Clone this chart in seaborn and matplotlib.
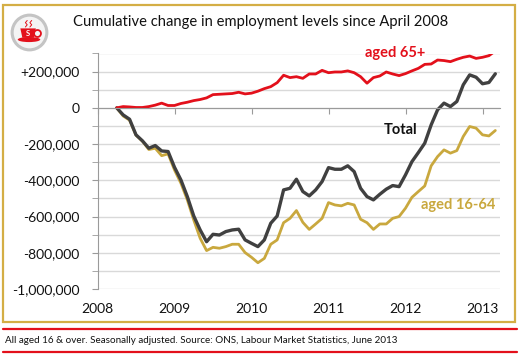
import numpy as np
import pandas as pd
import matplotlib
matplotlib.use("Agg")
import matplotlib.pyplot as plt
from matplotlib.patches import Rectangle, Ellipse, Polygon
from matplotlib.lines import Line2D
from matplotlib.ticker import MultipleLocator, FuncFormatter
import seaborn as sns

# monthly, April 2008 .. March 2013, change since April 2008
total = [0, -39000, -63000, -149000, -182000, -223000, -208000, -238000, -241000, -328000,
         -398000, -490000, -597000, -674000, -739000, -698000, -702000, -683000, -674000, -670000,
         -729000, -748000, -766000, -729000, -637000, -597000, -453000, -444000, -394000, -462000,
         -486000, -453000, -407000, -330000, -339000, -339000, -320000, -352000, -444000, -490000,
         -508000, -477000, -449000, -429000, -435000, -370000, -297000, -247000, -195000, -94000,
         -11000, 26000, 7000, 35000, 127000, 182000, 169000, 133000, 140000, 188000]
aged_65 = [0, 7000, 5000, 2000, 2000, 7000, 15000, 26000, 13000, 13000,
           24000, 31000, 40000, 46000, 55000, 73000, 75000, 77000, 79000, 86000,
           77000, 81000, 92000, 106000, 117000, 139000, 180000, 167000, 172000, 163000,
           187000, 187000, 207000, 194000, 198000, 198000, 204000, 194000, 172000, 136000,
           167000, 176000, 198000, 187000, 178000, 189000, 204000, 218000, 240000, 242000,
           264000, 261000, 255000, 268000, 279000, 286000, 273000, 279000, 288000, 314000]
aged_16_64 = [0, -45000, -68000, -151000, -184000, -230000, -223000, -264000, -254000, -343000,
              -416000, -508000, -619000, -720000, -788000, -770000, -775000, -766000, -753000, -753000,
              -799000, -825000, -855000, -831000, -753000, -729000, -634000, -610000, -567000, -632000,
              -671000, -641000, -610000, -523000, -536000, -541000, -527000, -536000, -615000, -634000,
              -671000, -641000, -641000, -610000, -600000, -554000, -494000, -462000, -431000, -320000,
              -269000, -232000, -250000, -236000, -158000, -103000, -112000, -149000, -155000, -125000]
years = [2008, 2009, 2010, 2011, 2012, 2013]

t = 2008 + (3 + np.arange(len(total))) / 12.0
df = pd.DataFrame({"t": t, "total": total, "aged_65": aged_65, "aged_16_64": aged_16_64})

RED = "#e3101b"
GOLD = "#c9a83e"
DARK = "#404040"
BORDER = "#d4ae45"

sns.set_style("white")
plt.rcParams["font.family"] = ["Lato", "DejaVu Sans"]

fig = plt.figure(figsize=(5.25, 3.61), dpi=100)
W, H = 525, 361

def fx(px):
    return px / W

def fy(py):
    return 1 - py / H

# outer gold frame and footer rules
fig.patches.append(Rectangle((fx(3), fy(322)), fx(515) - fx(3), fy(5) - fy(322),
                             transform=fig.transFigure, fill=False, ec=BORDER, lw=1.6))
for yy in (329, 352):
    fig.lines.append(Line2D([fx(3), fx(517)], [fy(yy), fy(yy)], transform=fig.transFigure,
                            color=RED, lw=1.6))
fig.text(fx(5), fy(340.5), "All aged 16 & over. Seasonally adjusted. Source: ONS, Labour Market Statistics, June 2013",
         fontsize=7.1, va="center", ha="left", color="#111111")
fig.text(fx(73), fy(22), "Cumulative change in employment levels since April 2008",
         fontsize=10.6, va="center", ha="left", color="#111111")

# logo: teacup in a grey roundel
cx, cy = fx(29), fy(32)
fig.lines.append(Line2D([cx], [cy], transform=fig.transFigure, marker="o", ms=25,
                        mfc="#f4f4f4", mec="#c4c4c4", mew=2.2, ls="none", zorder=-1))
lax = fig.add_axes([fx(11), fy(50), 36 / W, 36 / H])
lax.set_zorder(5)
lax.set_xlim(-1, 1)
lax.set_ylim(-1, 1)
lax.axis("off")
lax.add_patch(Ellipse((0, -0.42), 1.25, 0.28, fc=RED, ec="none", zorder=3))
lax.add_patch(Polygon([[-0.48, 0.2], [0.38, 0.2], [0.27, -0.32], [-0.37, -0.32]], fc=RED, ec="none", zorder=3))
lax.plot([0.45], [-0.03], marker="o", ms=5, mfc="none", mec=RED, mew=1.3, zorder=3)
lax.plot([-0.2, -0.1, -0.2, -0.1], [0.28, 0.4, 0.52, 0.64], color=RED, lw=0.7, zorder=3)
lax.plot([0.05, 0.15, 0.05, 0.15], [0.28, 0.4, 0.52, 0.64], color=RED, lw=0.7, zorder=3)
lax.text(-0.05, -0.06, "S", color="white", fontsize=5.5, fontweight="bold", ha="center", va="center", zorder=4)

# main chart
ax = fig.add_axes([fx(97.5), fy(289), fx(500) - fx(97.5), fy(53.5) - fy(289)])
sns.lineplot(data=df, x="t", y="aged_16_64", ax=ax, color=GOLD, lw=2.0)
sns.lineplot(data=df, x="t", y="total", ax=ax, color=DARK, lw=2.4)
sns.lineplot(data=df, x="t", y="aged_65", ax=ax, color=RED, lw=2.0)

ax.set_xlim(2008, 2008 + 402.5 / 77)
ax.set_ylim(-1000000, 300000)
ax.set_xlabel("")
ax.set_ylabel("")

ax.yaxis.set_major_locator(MultipleLocator(200000))
ax.yaxis.set_minor_locator(MultipleLocator(100000))
ax.yaxis.set_major_formatter(FuncFormatter(
    lambda v, p: "0" if abs(v) < 1 else ("+{:,.0f}".format(v) if v > 0 else "{:,.0f}".format(v))))
ax.grid(True, which="both", axis="y", color="#d9d9d9", lw=1.0)
ax.set_axisbelow(True)
ax.tick_params(axis="y", which="both", direction="out", length=4, color="#9a9a9a",
               labelsize=10, labelcolor="#111111", pad=9, left=True)

for s in ("top", "right"):
    ax.spines[s].set_visible(False)
ax.spines["left"].set_color("#9a9a9a")
ax.spines["bottom"].set_position(("data", 0))
ax.spines["bottom"].set_color("#9a9a9a")
ax.set_xticks(years)
ax.tick_params(axis="x", direction="out", length=4, color="#9a9a9a", labelbottom=False, bottom=True)

sec = ax.secondary_xaxis("bottom")
sec.set_xticks(years)
sec.set_xticklabels([str(y) for y in years])
sec.tick_params(length=0, labelsize=10, labelcolor="#111111", pad=10)
sec.spines["bottom"].set_visible(False)

ax.text(2011.86, 303000, "aged 65+", color=RED, fontsize=10.5, fontweight="bold", ha="center", va="center",
        bbox=dict(fc="white", ec="none", pad=0.5))
ax.text(2011.94, -121000, "Total", color="#111111", fontsize=10.5, fontweight="bold", ha="center", va="center")
ax.text(2012.68, -536000, "aged 16-64", color=GOLD, fontsize=10.5, fontweight="bold", ha="center", va="center")

fig.savefig("out.png", dpi=100, facecolor="white")
